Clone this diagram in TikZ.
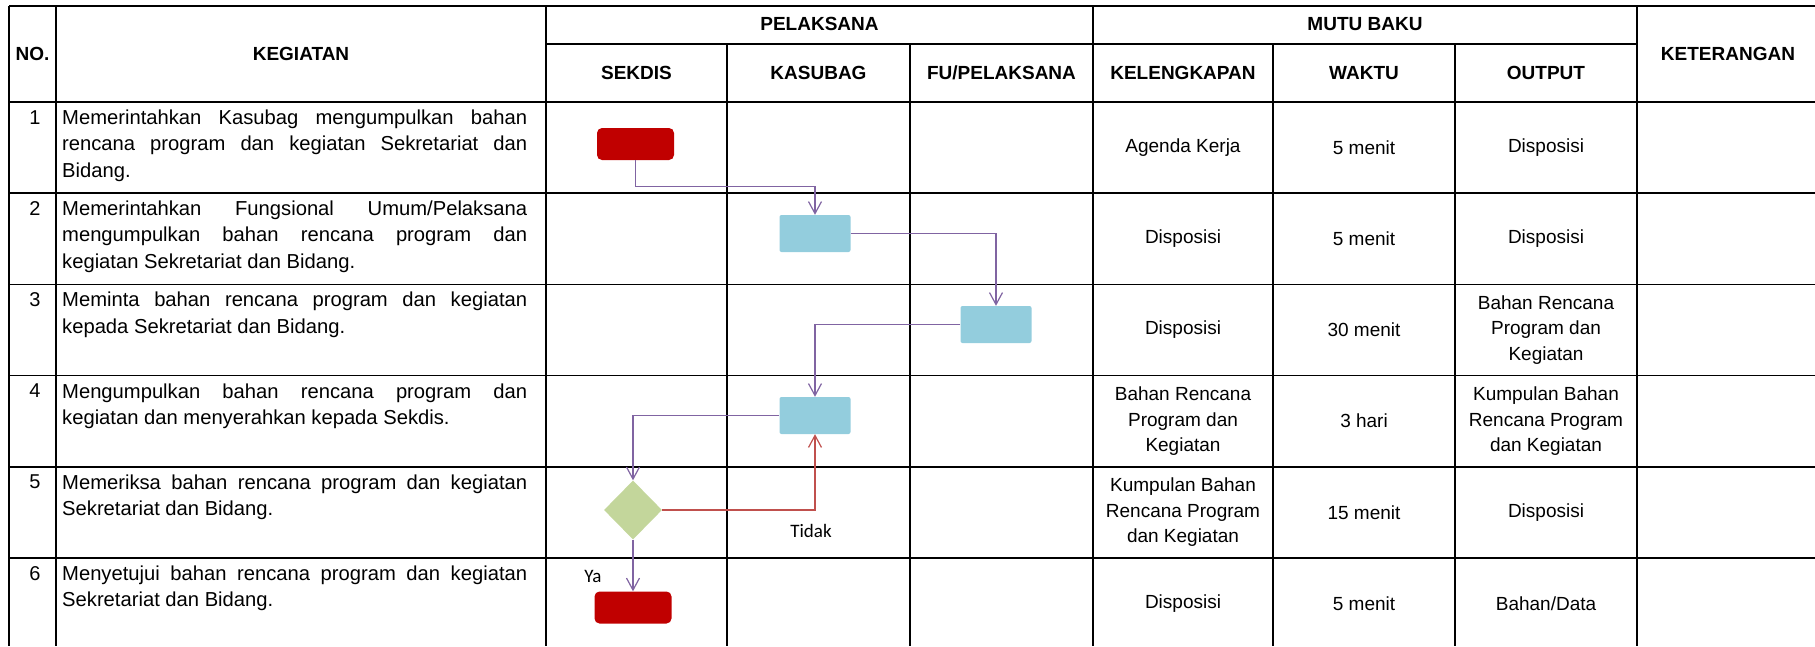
\documentclass[tikz,border=0pt]{standalone}
\usepackage{fontspec}
\setmainfont{Liberation Sans}
\newfontfamily\labelfont{Carlito}
\usetikzlibrary{shapes.geometric,arrows.meta}
\definecolor{merah}{HTML}{C00000}
\definecolor{biru}{HTML}{93CDDD}
\definecolor{hijau}{HTML}{C3D69B}
\definecolor{ungu}{HTML}{8064A2}
\definecolor{merahpanah}{HTML}{C0504D}
\setlength{\parindent}{0pt}
\hyphenpenalty=10000
\exhyphenpenalty=10000

\begin{document}
\begin{tikzpicture}[x=1pt,y=-1pt,
    every node/.style={inner sep=0pt,font=\fontsize{19}{25.5}\selectfont},
    head/.style={font=\fontsize{19}{25.5}\selectfont\bfseries},
    isi/.style={align=center},
    uraian/.style={anchor=north west,text width=465pt,align=justify,font=\fontsize{20.2}{26.3}\selectfont},
    nomor/.style={anchor=base,font=\fontsize{20}{26}\selectfont},
    label/.style={font=\labelfont\fontsize{19}{22}\selectfont},
    terminal/.style={rectangle,rounded corners=5pt,fill=merah,minimum width=77pt,minimum height=32pt},
    proses/.style={rectangle,rounded corners=2pt,fill=biru,minimum width=71pt,minimum height=37pt},
    keputusan/.style={diamond,fill=hijau,minimum width=58pt,minimum height=59pt},
    alur/.style={draw=ungu,line width=1.2pt,-{Straight Barb[length=12pt,width=13pt]}},
    tolak/.style={alur,draw=merahpanah},
    garis/.style={line width=1.6pt}]
      \useasboundingbox (0,0) rectangle (1815,646);
      \draw[garis] (9,6) -- (1815,6);
      \draw[garis] (546,44) -- (1637,44);
      \foreach \y in {102,193.2,284.4,375.6,466.8,558}
        \draw[garis] (9,\y) -- (1815,\y);
      \foreach \x in {9,56,546,1093,1637}
        \draw[garis] (\x,6) -- (\x,646);
      \foreach \x in {727,910,1273,1455}
        \draw[garis] (\x,44) -- (\x,646);

      \node[head] (hno) at (32.5,54) {NO.};
      \node[head] (hkeg) at (301,54) {KEGIATAN};
      \node[head] (hpel) at (819.5,24) {PELAKSANA};
      \node[head] (hmutu) at (1365,24) {MUTU BAKU};
      \node[head] (hket) at (1728,54) {KETERANGAN};
      \node[head] (hsekdis) at (636.5,73) {SEKDIS};
      \node[head] (hkasubag) at (818.5,73) {KASUBAG};
      \node[head] (hfu) at (1001.5,73) {FU/PELAKSANA};
      \node[head] (hkel) at (1183,73) {KELENGKAPAN};
      \node[head] (hwaktu) at (1364,73) {WAKTU};
      \node[head] (houtput) at (1546,73) {OUTPUT};

      \node[nomor] (no1) at (35,124) {1};
      \node[nomor] (no2) at (35,215.2) {2};
      \node[nomor] (no3) at (35,306.4) {3};
      \node[nomor] (no4) at (35,397.6) {4};
      \node[nomor] (no5) at (35,488.8) {5};
      \node[nomor] (no6) at (35,580) {6};

      \node[uraian] (keg1) at (62,109.6) {Memerintahkan Kasubag mengumpulkan bahan\linebreak rencana program dan kegiatan Sekretariat dan\linebreak Bidang.};
      \node[uraian] (keg2) at (62,200.8) {Memerintahkan Fungsional Umum/Pelaksana\linebreak mengumpulkan bahan rencana program dan\linebreak kegiatan Sekretariat dan Bidang.};
      \node[uraian] (keg3) at (62,292) {Meminta bahan rencana program dan kegiatan\linebreak kepada Sekretariat dan Bidang.};
      \node[uraian] (keg4) at (62,383.2) {Mengumpulkan bahan rencana program dan\linebreak kegiatan dan menyerahkan kepada Sekdis.};
      \node[uraian] (keg5) at (62,474.4) {Memeriksa bahan rencana program dan kegiatan\linebreak Sekretariat dan Bidang.};
      \node[uraian] (keg6) at (62,565.6) {Menyetujui bahan rencana program dan kegiatan\linebreak Sekretariat dan Bidang.};

      \node[isi] (kel1) at (1183,147.6) {Agenda Kerja};
      \node[isi] (kel2) at (1183,238.8) {Disposisi};
      \node[isi] (kel3) at (1183,330) {Disposisi};
      \node[isi] (kel4) at (1183,421.2) {Bahan Rencana\\Program dan\\Kegiatan};
      \node[isi] (kel5) at (1183,512.4) {Kumpulan Bahan\\Rencana Program\\dan Kegiatan};
      \node[isi] (kel6) at (1183,603.6) {Disposisi};

      \node[isi] (wkt1) at (1364,147.6) {5 menit};
      \node[isi] (wkt2) at (1364,238.8) {5 menit};
      \node[isi] (wkt3) at (1364,330) {30 menit};
      \node[isi] (wkt4) at (1364,421.2) {3 hari};
      \node[isi] (wkt5) at (1364,512.4) {15 menit};
      \node[isi] (wkt6) at (1364,603.6) {5 menit};

      \node[isi] (out1) at (1546,147.6) {Disposisi};
      \node[isi] (out2) at (1546,238.8) {Disposisi};
      \node[isi] (out3) at (1546,330) {Bahan Rencana\\Program dan\\Kegiatan};
      \node[isi] (out4) at (1546,421.2) {Kumpulan Bahan\\Rencana Program\\dan Kegiatan};
      \node[isi] (out5) at (1546,512.4) {Disposisi};
      \node[isi] (out6) at (1546,603.6) {Bahan/Data};

      \node[terminal] (mulai) at (635.5,144) {};
      \node[proses] (perintah) at (815,233.5) {};
      \node[proses] (minta) at (996,324.5) {};
      \node[proses] (kumpul) at (815,415.5) {};
      \node[keputusan] (periksa) at (633,510) {};
      \node[terminal] (setuju) at (633,607.5) {};
      \node[label] (tidak) at (811,531) {Tidak};
      \node[label] (ya) at (593,576) {Ya};

      \draw[alur] (mulai.south) -- ++(0,26) -| (perintah.north);
      \draw[alur] (perintah.east) -| (minta.north);
      \draw[alur] (minta.west) -| (kumpul.north);
      \draw[alur] (kumpul.west) -| (periksa.north);
      \draw[tolak] (periksa.east) -| (kumpul.south);
      \draw[alur] (periksa.south) -- (setuju.north);
    \end{tikzpicture}
\end{document}
